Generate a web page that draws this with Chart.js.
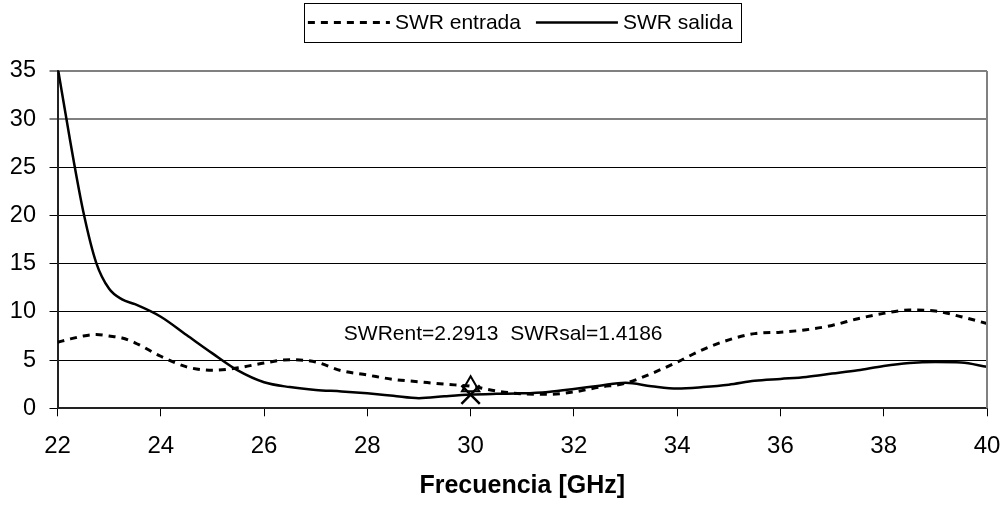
<!DOCTYPE html>
<html>
<head>
<meta charset="utf-8">
<script src="https://cdn.jsdelivr.net/npm/chart.js@4/dist/chart.umd.min.js"></script>
<style>
  html, body { margin: 0; padding: 0; background: #fff; }
  #wrap { width: 1004px; height: 506px; }
</style>
</head>
<body>
<div id="wrap"><canvas id="swrChart"></canvas></div>
<script>
// frequency grid in GHz
const freqs = [22, 22.25, 22.5, 22.75, 23, 23.25, 23.5, 24, 24.5, 25, 25.5, 26, 26.5, 27, 27.5, 28, 28.5, 29, 29.5, 30,
               30.5, 31, 31.5, 32, 32.5, 33, 33.5, 34, 34.5, 35, 35.5, 36, 36.5, 37, 37.5, 38, 38.5, 39, 39.5, 40];
const swrEntrada = [6.85, 7.2, 7.5, 7.65, 7.5, 7.3, 6.8, 5.4, 4.3, 3.95, 4.2, 4.7, 5.05, 4.8, 3.9, 3.45, 3.0, 2.75, 2.5, 2.29,
                    1.8, 1.5, 1.45, 1.7, 2.2, 2.6, 3.6, 4.8, 6.1, 7.1, 7.75, 7.9, 8.15, 8.6, 9.3, 9.85, 10.2, 10.1, 9.5, 8.8];
const swrSalida = [35.5, 27.6, 20.4, 15.1, 12.4, 11.3, 10.8, 9.5, 7.6, 5.7, 3.9, 2.7, 2.2, 1.9, 1.75, 1.55, 1.3, 1.05, 1.25, 1.42,
                   1.5, 1.55, 1.7, 2.0, 2.35, 2.65, 2.3, 2.05, 2.2, 2.45, 2.85, 3.05, 3.25, 3.6, 3.95, 4.4, 4.7, 4.8, 4.75, 4.3];
const seriesNames = ['SWR entrada', 'SWR salida'];
const xTicks = [22, 24, 26, 28, 30, 32, 34, 36, 38, 40];
const yTicks = [0, 5, 10, 15, 20, 25, 30, 35];

// marked point
const markFreq = 30;
const markEnt = 2.2913;
const markSal = 1.4186;
const markLabel = 'SWRent=' + markEnt + '  SWRsal=' + markSal;
const labelPos = { x: 30.63, y: 7.7 };

const FONT = '"Liberation Sans", Arial, sans-serif';

function toPoints(xs, ys) {
    return xs.map((x, i) => ({ x: x, y: ys[i] }));
}

// legend drawn as a framed box on top, like the original spreadsheet chart
const boxLegend = {
    id: 'boxLegend',
    afterDraw(chart) {
        const ctx = chart.ctx;
        const area = chart.chartArea;
        const lineLen = 82, gap = 5, itemGap = 15, pad = 6;
        ctx.save();
        ctx.font = '21px ' + FONT;
        const items = seriesNames.map((name, i) => ({ name, ds: chart.data.datasets[i], w: ctx.measureText(name).width }));
        let total = pad * 2 + items.reduce((s, it) => s + lineLen + gap + it.w, 0) + itemGap * (items.length - 1);
        let x = (area.left + area.right) / 2 - total / 2;
        const top = 3, h = 39, cy = top + h / 2;
        ctx.strokeStyle = '#000';
        ctx.lineWidth = 1;
        ctx.strokeRect(Math.round(x) + 0.5, top + 0.5, Math.round(total), h);
        x += pad - 2;
        ctx.textBaseline = 'middle';
        ctx.fillStyle = '#000';
        items.forEach(it => {
            ctx.setLineDash(it.ds.borderDash || []);
            ctx.lineWidth = it.ds.borderWidth;
            ctx.beginPath();
            ctx.moveTo(x, cy);
            ctx.lineTo(x + lineLen, cy);
            ctx.stroke();
            ctx.setLineDash([]);
            x += lineLen + gap;
            ctx.fillText(it.name, x, cy + 1);
            x += it.w + itemGap;
        });
        ctx.restore();
    }
};

// grey frame line on the right side of the plot + value label
const extras = {
    id: 'extras',
    afterDraw(chart) {
        const ctx = chart.ctx;
        const a = chart.chartArea;
        const xs = chart.scales.x, ys = chart.scales.y;
        ctx.save();
        ctx.strokeStyle = '#808080';
        ctx.lineWidth = 2;
        ctx.beginPath();
        ctx.moveTo(a.right, a.top);
        ctx.lineTo(a.right, a.bottom);
        ctx.stroke();
        ctx.font = '21px ' + FONT;
        ctx.fillStyle = '#000';
        ctx.textAlign = 'center';
        ctx.textBaseline = 'middle';
        ctx.fillText(markLabel, xs.getPixelForValue(labelPos.x), ys.getPixelForValue(labelPos.y));
        ctx.restore();
    }
};

document.addEventListener('DOMContentLoaded', function () {
    const ctx = document.getElementById('swrChart').getContext('2d');
    new Chart(ctx, {
        type: 'line',
        data: {
            datasets: [{
                label: seriesNames[0],
                data: toPoints(freqs, swrEntrada),
                borderColor: '#000',
                borderWidth: 3,
                borderDash: [7, 6],
                pointRadius: 0,
                cubicInterpolationMode: 'monotone'
            }, {
                label: seriesNames[1],
                data: toPoints(freqs, swrSalida),
                borderColor: '#000',
                borderWidth: 2.5,
                pointRadius: 0,
                cubicInterpolationMode: 'monotone'
            }, {
                label: 'ent marker',
                data: [{ x: markFreq, y: markEnt }],
                showLine: false,
                pointStyle: 'triangle',
                pointRadius: 10,
                pointBorderWidth: 2,
                pointBorderColor: '#000',
                pointBackgroundColor: 'rgba(0,0,0,0)'
            }, {
                label: 'sal marker',
                data: [{ x: markFreq, y: markSal }],
                showLine: false,
                pointStyle: 'crossRot',
                pointRadius: 13,
                pointBorderWidth: 2.5,
                pointBorderColor: '#000'
            }]
        },
        options: {
            responsive: true,
            maintainAspectRatio: false,
            animation: false,
            layout: { autoPadding: false, padding: { left: 10, right: 17, top: 71, bottom: 0 } },
            plugins: {
                legend: { display: false },
                tooltip: { enabled: false }
            },
            scales: {
                x: {
                    type: 'linear',
                    min: 22,
                    max: 40,
                    afterBuildTicks: axis => { axis.ticks = xTicks.map(v => ({ value: v })); },
                    // keep the plot area where the original has it
                    afterFit: axis => { axis.height = 97.7; axis.paddingLeft = 0; axis.paddingRight = 0; },
                    grid: { drawOnChartArea: false, color: '#000', tickLength: 8 },
                    border: { color: '#222', width: 2 },
                    ticks: { color: '#000', font: { family: FONT, size: 24 }, padding: 16, maxRotation: 0 },
                    title: {
                        display: true,
                        text: 'Frecuencia [GHz]',
                        color: '#000',
                        font: { family: FONT, size: 25, weight: 'bold' },
                        padding: { top: 14.6, bottom: 5 }
                    }
                },
                y: {
                    min: 0,
                    max: 35,
                    afterBuildTicks: axis => { axis.ticks = yTicks.map(v => ({ value: v })); },
                    afterFit: axis => { axis.width = 47.5; },
                    grid: {
                        color: c => (c.tick && c.tick.value >= 30 ? '#808080' : '#000'),
                        lineWidth: c => (c.tick && c.tick.value >= 30 ? 2 : 1),
                        tickLength: 8
                    },
                    border: { color: '#222', width: 2 },
                    ticks: { color: '#000', font: { family: FONT, size: 23.5 }, padding: 13.5 }
                }
            }
        },
        plugins: [boxLegend, extras]
    });
});
</script>
</body>
</html>
